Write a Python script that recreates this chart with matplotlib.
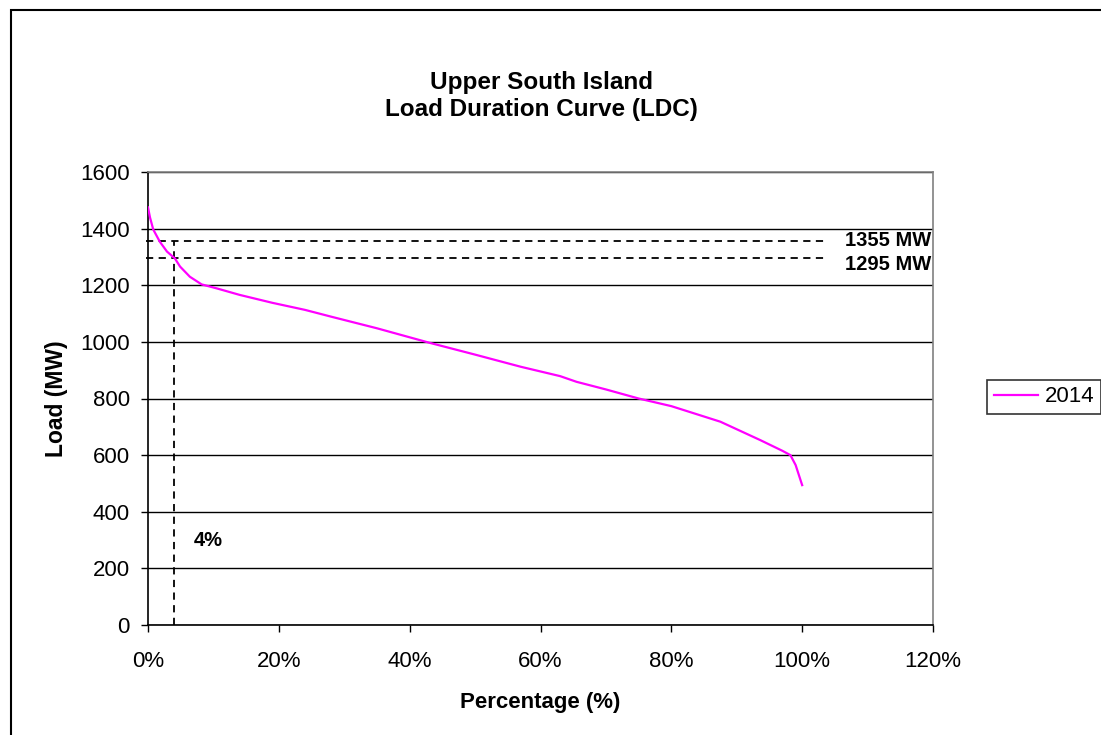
import matplotlib
matplotlib.use("Agg")
import matplotlib.pyplot as plt
from matplotlib.patches import Rectangle
from matplotlib.ticker import PercentFormatter

plt.rcParams['font.family'] = ['Liberation Sans', 'DejaVu Sans']

# Data
pct = [0, 0.3, 0.8, 1.8, 2.9, 4.1, 4.9, 6.4, 8.2, 10.5, 14, 19, 24, 28, 35, 43,
       50, 57, 63, 65.5, 70, 75, 80, 87.5, 93.6, 97, 98.2, 99, 100]
load_2014 = [1475, 1440, 1397, 1354, 1319, 1295, 1266, 1230, 1203, 1189, 1166, 1138,
             1113, 1089, 1048, 997, 955, 912, 879, 859, 832, 800, 773, 718, 653,
             615, 600, 565, 494]
series_name = "2014"
levels = [1355, 1295]
level_labels = ["1355 MW", "1295 MW"]
mark_pct = 4
mark_label = "4%"
y_ticks = [0, 200, 400, 600, 800, 1000, 1200, 1400, 1600]
x_ticks = [0, 20, 40, 60, 80, 100, 120]

W, H = 1101, 735
fig = plt.figure(figsize=(W / 100, H / 100), dpi=100)

# outer chart border (cut off at right/bottom)
fig.patches.append(Rectangle((11 / W, -0.1), 1.2, 1 - 10 / H + 0.1, transform=fig.transFigure,
                             fill=False, edgecolor='black', linewidth=1.5))

ax = fig.add_axes([148 / W, 1 - 625 / H, (933 - 148) / W, (625 - 172) / H])
ax.set_xlim(0, 120)
ax.set_ylim(0, 1600)
ax.set_xticks(x_ticks)
ax.set_yticks(y_ticks)
ax.xaxis.set_major_formatter(PercentFormatter(decimals=0))
ax.yaxis.grid(True, color='black', linewidth=1)
ax.set_axisbelow(True)
for s in ['top', 'right']:
    ax.spines[s].set_color('#808080')
    ax.spines[s].set_linewidth(1.2)
for s in ['left', 'bottom']:
    ax.spines[s].set_color('black')
    ax.spines[s].set_linewidth(1.2)
ax.tick_params(axis='both', direction='out', length=5, width=1, labelsize=16)
ax.tick_params(axis='x', pad=14)
ax.tick_params(axis='y', pad=8)

ax.plot(pct, load_2014, color='#FF00FF', linewidth=1.6, label=series_name, zorder=3)

# dashed reference lines
for lv in levels:
    ax.plot([-0.3, 104], [lv, lv], color='black', linestyle=(0, (4, 3)), linewidth=1.3, clip_on=False)
ax.plot([mark_pct, mark_pct], [0, levels[0]], color='black', linestyle=(0, (4, 3)), linewidth=1.3)
label_y = [1357, 1273]
for ly, lab in zip(label_y, level_labels):
    ax.text(119.7, ly, lab, ha='right', va='center', fontsize=14.5, fontweight='bold')
ax.text(9.2, 300, mark_label, ha='center', va='center', fontsize=14.5, fontweight='bold')

ax.set_xlabel("Percentage (%)", fontsize=16, fontweight='bold', labelpad=14)
ax.set_ylabel("Load (MW)", fontsize=16.5, fontweight='bold', labelpad=9)

fig.text(541 / W, 1 - 96 / H, "Upper South Island\nLoad Duration Curve (LDC)", ha='center', va='center',
         fontsize=17.5, fontweight='bold', linespacing=1.25)

leg = ax.legend(loc='center left', bbox_to_anchor=(987 / W, 1 - 397 / H), bbox_transform=fig.transFigure,
                frameon=True, fancybox=False, fontsize=16, handlelength=2.0, borderpad=0.3,
                handletextpad=0.3, borderaxespad=0)
leg.get_frame().set_edgecolor('black')
leg.get_frame().set_linewidth(1.2)

fig.savefig("out.png", dpi=100)
